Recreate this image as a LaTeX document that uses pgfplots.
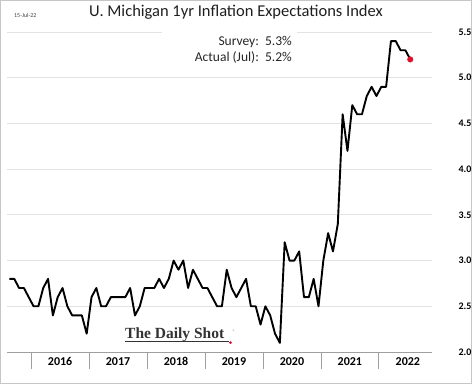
\documentclass[border=0pt]{standalone}
\usepackage{fontspec}
\setmainfont{Carlito}
\newfontfamily\logofont{Liberation Serif}
\usepackage{pgfplots}
\pgfplotsset{compat=1.18}
\definecolor{dsred}{HTML}{E0102A}
\begin{document}
\begin{tikzpicture}[x=1pt,y=1pt]
\useasboundingbox (0,0) rectangle (472,384);
\draw[gray!45, line width=0.8pt] (0.5,0.5) rectangle (471.5,383.5);
\begin{axis}[
  at={(7pt,32pt)}, anchor=south west,
  scale only axis, width=425pt, height=320pt,
  xmin=-5, xmax=83, ymin=2, ymax=5.5,
  axis x line*=bottom, axis y line*=right,
  y axis line style={draw=none},
  x axis line style={gray!75, line width=0.8pt},
  ytick={2,2.5,...,5.5},
  ytick style={draw=none},
  ymajorgrids, grid style={gray!22, line width=0.8pt},
  yticklabel style={font=\bfseries\fontsize{10}{12}\selectfont, text=black, xshift=6pt,
    /pgf/number format/.cd, fixed, fixed zerofill, precision=1, assume math mode=true},
  xtick={0,12,...,72},
  xticklabels={},
  tick align=outside, major tick length=17pt,
  xtick style={gray!75, line width=0.8pt},
  extra x ticks={6,18,30,42,54,66,78},
  extra x tick labels={2016,2017,2018,2019,2020,2021,2022},
  extra x tick style={major tick length=0pt, grid=none,
    xticklabel style={font=\bfseries\fontsize{12}{14}\selectfont, text=black, yshift=-2pt}},
  clip=false,
]
\addplot[black, line width=1.9pt, line join=round] coordinates {
(-4.5,2.8) (-3.5,2.8) (-2.5,2.7) (-1.5,2.7) (-0.5,2.6)
(0.5,2.5) (1.5,2.5) (2.5,2.7) (3.5,2.8) (4.5,2.4) (5.5,2.6) (6.5,2.7) (7.5,2.5) (8.5,2.4) (9.5,2.4) (10.5,2.4) (11.5,2.2)
(12.5,2.6) (13.5,2.7) (14.5,2.5) (15.5,2.5) (16.5,2.6) (17.5,2.6) (18.5,2.6) (19.5,2.6) (20.5,2.7) (21.5,2.4) (22.5,2.5) (23.5,2.7)
(24.5,2.7) (25.5,2.7) (26.5,2.8) (27.5,2.7) (28.5,2.8) (29.5,3.0) (30.5,2.9) (31.5,3.0) (32.5,2.7) (33.5,2.9) (34.5,2.8) (35.5,2.7)
(36.5,2.7) (37.5,2.6) (38.5,2.5) (39.5,2.5) (40.5,2.9) (41.5,2.7) (42.5,2.6) (43.5,2.7) (44.5,2.8) (45.5,2.5) (46.5,2.5) (47.5,2.3)
(48.5,2.5) (49.5,2.4) (50.5,2.2) (51.5,2.1) (52.5,3.2) (53.5,3.0) (54.5,3.0) (55.5,3.1) (56.5,2.6) (57.5,2.6) (58.5,2.8) (59.5,2.5)
(60.5,3.0) (61.5,3.3) (62.5,3.1) (63.5,3.4) (64.5,4.6) (65.5,4.2) (66.5,4.7) (67.5,4.6) (68.5,4.6) (69.5,4.8) (70.5,4.9) (71.5,4.8)
(72.5,4.9) (73.5,4.9) (74.5,5.4) (75.5,5.4) (76.5,5.3) (77.5,5.3) (78.5,5.2)
};
\addplot[only marks, mark=*, mark size=2.8pt, color=dsred] coordinates {(78.5,5.2)};
\end{axis}
\fill[white] (162,349) rectangle (297,355);
\node[anchor=east, inner sep=0pt, font=\fontsize{13.5}{16.5}\selectfont, text=black!85] at (292,334)
  {\begin{tabular}{@{}r@{\ \ }l@{}}Survey: & 5.3\%\\ Actual (Jul): & 5.2\%\end{tabular}};
\node[font=\fontsize{16.5}{18}\selectfont, text=black!88] at (236,372) {U. Michigan 1yr Inflation Expectations Index};
\node[anchor=west, inner sep=0pt, font=\fontsize{6}{7}\selectfont, text=black!75] at (14,369) {15-Jul-22};
\node[anchor=base west, inner sep=0pt, font=\logofont\bfseries\fontsize{15.5}{15.5}\selectfont, text=black!80] at (125,46) {The Daily Shot};
\draw[black!80, line width=0.6pt] (125,43) -- (229,43);
\fill[dsred] (230.5,41.5) circle (1.5);
\node[inner sep=0pt, font=\fontsize{5}{5}\selectfont, text=gray] at (234,52) {\textregistered};
\end{tikzpicture}
\end{document}
